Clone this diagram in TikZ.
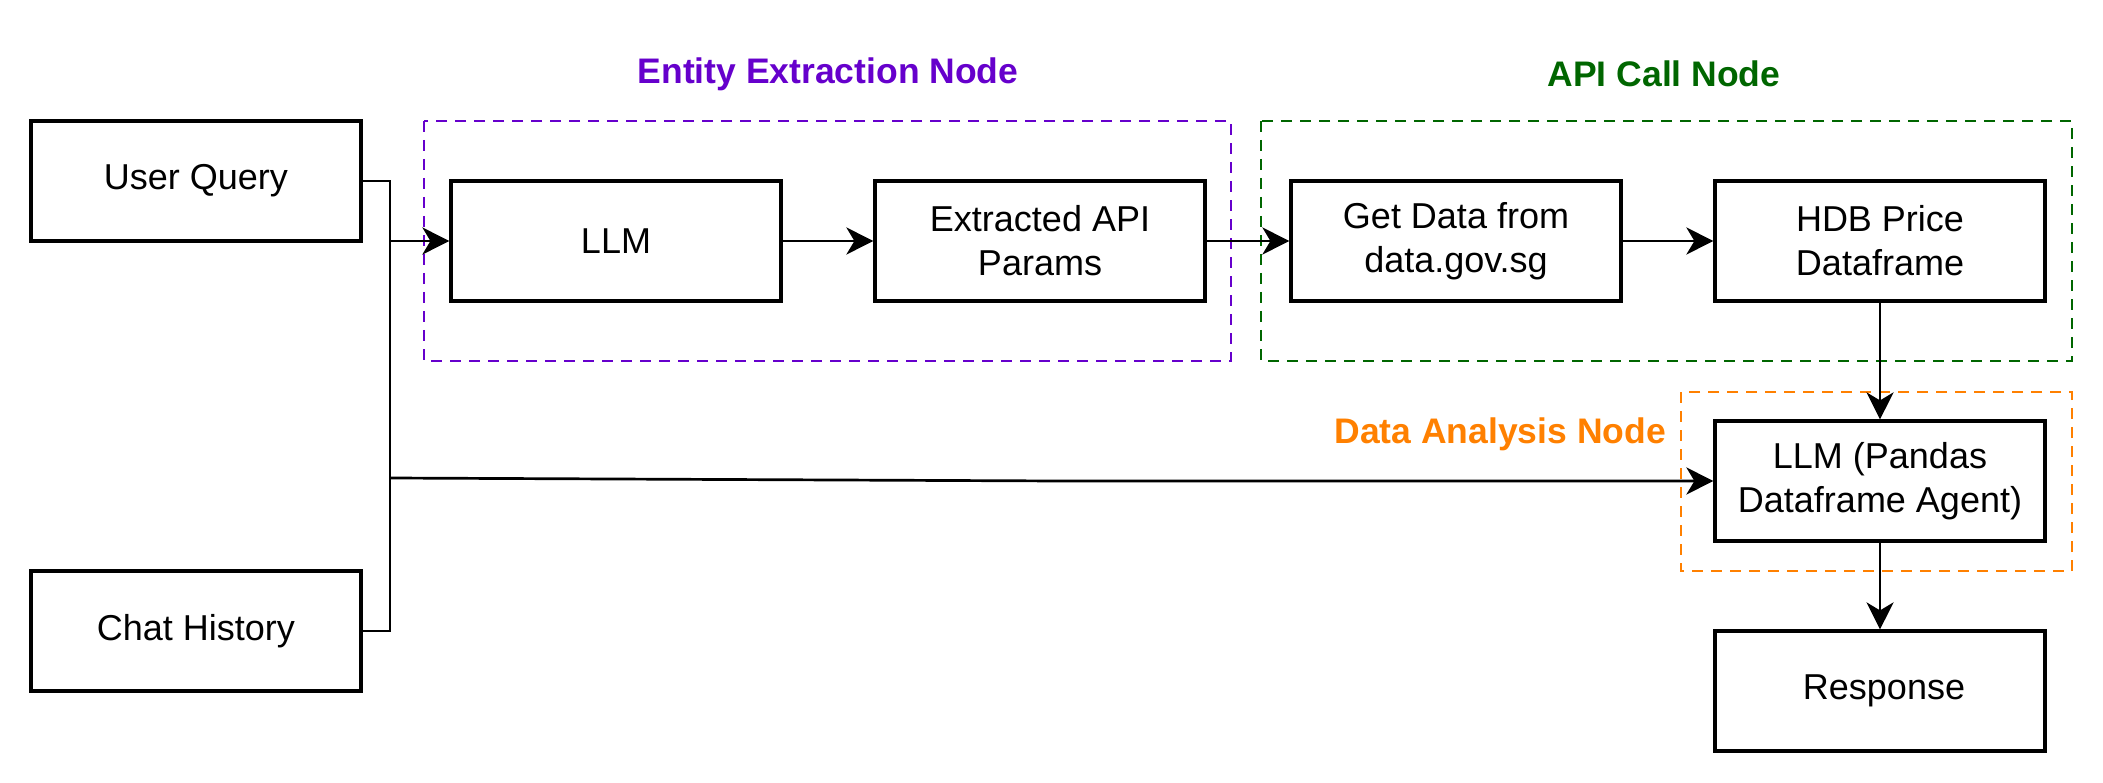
\documentclass[tikz,border=0pt]{standalone}
\usepackage{fontspec}
\setmainfont{Liberation Sans}
\usetikzlibrary{arrows.meta}
\definecolor{cpurple}{HTML}{6600CC}
\definecolor{cgreen}{HTML}{006600}
\definecolor{corange}{HTML}{FF8000}
\begin{document}
\begin{tikzpicture}[x=1pt,y=-1pt,
  box/.style={draw=black, line width=3.2pt, minimum width=330pt, minimum height=120pt,
    align=center, font=\fontsize{36}{44}\selectfont, inner sep=0pt},
  group/.style={line width=2.8pt, dash pattern=on 11pt off 8pt},
  title/.style={font=\fontsize{35.5}{44}\selectfont\bfseries, inner sep=0pt},
  conn/.style={line width=2.7pt},
  arr/.style={conn, -{Stealth[length=27pt,width=27pt,inset=8pt]}}]
\useasboundingbox (0,0) rectangle (2103,783);

% groups
\draw[group, cpurple] (424,121) rectangle (1231,361);
\draw[group, cgreen] (1261,121) rectangle (2072,361);
\draw[group, corange] (1681,392) rectangle (2072,571);

\node[title, text=cpurple] (t1) at (828,74) {Entity Extraction Node};
\node[title, text=cgreen] (t2) at (1664,74) {API Call Node};
\node[title, text=corange, anchor=east] (t3) at (1666,434) {Data Analysis Node};

% nodes
\node[box] (uq) at (196,181) {User Query};
\node[box] (chat) at (196,631) {Chat History};
\node[box] (llm) at (616,241) {LLM};
\node[box] (ext) at (1040,241) {Extracted API\\Params};
\node[box] (get) at (1456,241) {Get Data from\\data.gov.sg};
\node[box] (hdb) at (1880,241) {HDB Price\\Dataframe};
\node[box] (pandas) at (1880,481) {LLM (Pandas\\Dataframe Agent)};
\node[box] (resp) at (1880,691) {\hspace{8pt}Response};

% connectors
\coordinate (bus) at (390,0);
\draw[conn] (uq.east) -- (uq.east -| bus) -- (chat.east -| bus) -- (chat.east);
\draw[arr] (llm.west -| bus) -- (llm.west);
\coordinate (k1) at (390,478);
\coordinate (k2) at (1060,481);
\draw[arr] (k1) -- (k2) -- (pandas.west);
\draw[arr] (llm) -- (ext);
\draw[arr] (ext) -- (get);
\draw[arr] (get) -- (hdb);
\draw[arr] (hdb) -- (pandas);
\draw[arr] (pandas) -- (resp);
\end{tikzpicture}
\end{document}
